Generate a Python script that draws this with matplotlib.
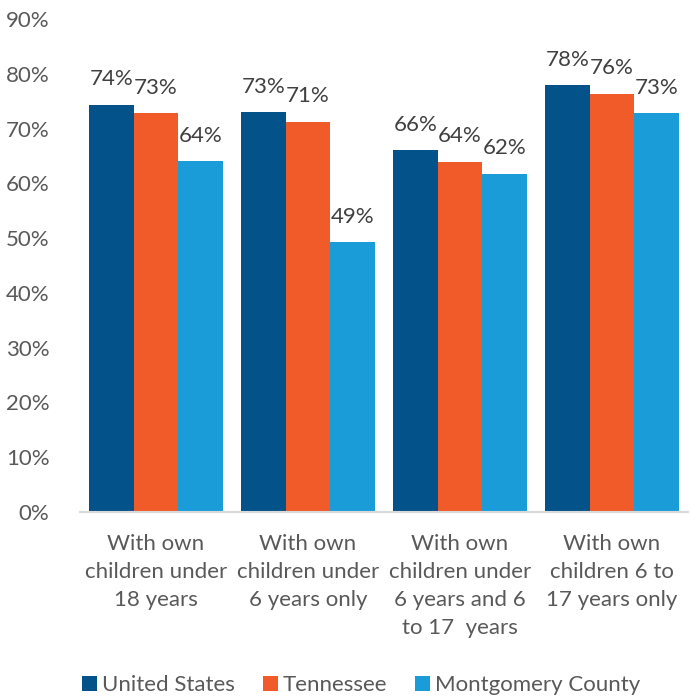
import numpy as np
import matplotlib.pyplot as plt
import matplotlib

matplotlib.rcParams.update({
    'font.family': ['Lato', 'DejaVu Sans'],
    'font.size': 16,
})

# Labour force participation by presence of own children
categories = [
    'With own\nchildren under\n18 years',
    'With own\nchildren under\n6 years only',
    'With own\nchildren under\n6 years and 6\nto 17  years',
    'With own\nchildren 6 to\n17 years only',
]
series_names = ['United States', 'Tennessee', 'Montgomery County']
united_states = [74.4, 73.0, 66.1, 77.9]
tennessee = [72.8, 71.3, 64.0, 76.4]
montgomery = [64.1, 49.3, 61.8, 72.9]
colors = ['#03528a', '#f15a29', '#1a9cd8']

fig = plt.figure(figsize=(6.9, 6.98), dpi=100)
ax = fig.add_axes([0.116, 0.2665, 0.881, 0.706])

x = np.arange(len(categories))
width = 0.294
for i, (vals, name, col) in enumerate(zip([united_states, tennessee, montgomery], series_names, colors)):
    bars = ax.bar(x + (i - 1) * width, vals, width, color=col, label=name)
    for b, v in zip(bars, vals):
        ax.annotate(f'{v:.0f}%', (b.get_x() + b.get_width() / 2, v),
                    xytext=(0, 11), textcoords='offset points',
                    ha='center', va='bottom', fontsize=16, color='#404040')

ax.set_xlim(-0.5, 3.5)
ax.set_ylim(0, 90)
ax.set_yticks(range(0, 91, 10))
ax.set_yticklabels([f'{t}%' for t in range(0, 91, 10)])
ax.set_xticks(x)
ax.set_xticklabels(categories, linespacing=1.5)
ax.tick_params(axis='both', length=0, labelsize=16, colors='#595959')
ax.tick_params(axis='x', pad=16)
ax.tick_params(axis='y', pad=22)
for s in ['top', 'right', 'left']:
    ax.spines[s].set_visible(False)
ax.spines['bottom'].set_color('#d9d9d9')
ax.spines['bottom'].set_linewidth(1.5)

leg = fig.legend(loc='lower center', bbox_to_anchor=(0.524, -0.025), ncol=3, frameon=False,
                 fontsize=16, handlelength=0.65, handleheight=0.65, handletextpad=0.25,
                 columnspacing=1.25)
for t in leg.get_texts():
    t.set_color('#595959')

fig.savefig('out.png', dpi=100)
